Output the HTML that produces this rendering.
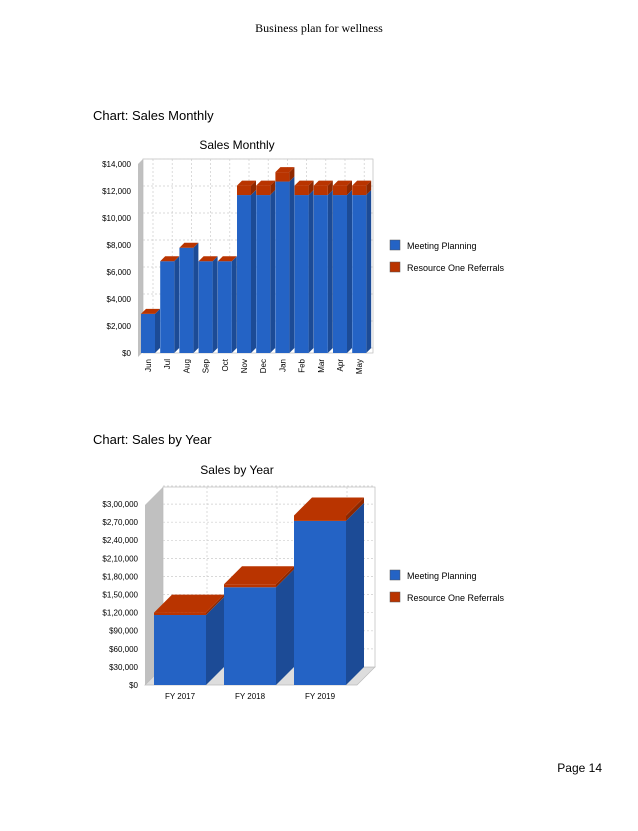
<!DOCTYPE html>
<html><head><meta charset="utf-8"><style>
body{margin:0;background:#fff;}
svg text{font-family:"Liberation Sans",sans-serif;}
.serif{font-family:"Liberation Serif",serif;}
</style></head><body>
<svg width="638" height="826" xmlns="http://www.w3.org/2000/svg">
<text class="serif" x="319" y="32" text-anchor="middle" font-size="12" font-family="Liberation Serif">Business plan for wellness</text>
<text x="93" y="120" font-size="13" font-family="Liberation Serif">Chart: Sales Monthly</text>
<text x="93" y="444" font-size="13" font-family="Liberation Serif">Chart: Sales by Year</text>
<text x="602" y="772" text-anchor="end" font-size="12" font-family="Liberation Serif">Page 14</text>
<g id="c1"></g>
<g id="c2"></g>
</svg>
<script>
const months=["Jun","Jul","Aug","Sep","Oct","Nov","Dec","Jan","Feb","Mar","Apr","May"];
const mpValues=[2900,6800,7800,6800,6800,11700,11700,12700,11700,11700,11700,11700];
const rorValues=[0,0,0,0,0,700,700,700,700,700,700,700];
const yTicks1=["$0","$2,000","$4,000","$6,000","$8,000","$10,000","$12,000","$14,000"];
const years=["FY 2017","FY 2018","FY 2019"];
const mpYear=[116000,162000,272000];
const rorYear=[4000,5000,9000];
const yTicks2=["$0","$30,000","$60,000","$90,000","$1,20,000","$1,50,000","$1,80,000","$2,10,000","$2,40,000","$2,70,000","$3,00,000"];
const NS="http://www.w3.org/2000/svg";
const BLUE="#2463c5",BSIDE="#1c4b96",RED="#b93400",RSIDE="#8e2800";
function mk(p,t,a){const e=document.createElementNS(NS,t);for(const k in a)e.setAttribute(k,a[k]);p.appendChild(e);return e;}
function box(g,x,y0,y1,w,d,fc,sc,tc){
 // front face from y1(top) to y0(bottom)
 mk(g,'polygon',{points:`${x+w},${y0} ${x+w+d},${y0-d} ${x+w+d},${y1-d} ${x+w},${y1}`,fill:sc});
 mk(g,'rect',{x:x,y:y1,width:w,height:y0-y1,fill:fc});
 if(tc)mk(g,'polygon',{points:`${x},${y1} ${x+d},${y1-d} ${x+w+d},${y1-d} ${x+w},${y1}`,fill:tc});
}
function legend(g,y){
 [["Meeting Planning",BLUE],["Resource One Referrals",RED]].forEach((l,i)=>{
  const r=mk(g,'rect',{x:390,y:y+i*22-5,width:10,height:10,fill:l[1],stroke:'#555','stroke-width':0.5});
  
  
  const t=mk(g,'text',{x:407,y:y+i*22+4,'font-size':9});t.textContent=l[0];
  
  
 });
}
// Chart 1
(function(){
 const g=document.getElementById('c1');
 const y0=353,top=164,max=14000,d=5;
 const ys=v=>y0-(v/max)*(y0-top);
 const t=mk(g,'text',{x:237,y:149,'font-size':12,'text-anchor':'middle'});t.textContent="Sales Monthly";
 
 mk(g,'polygon',{points:`138,${y0+4} 143,${y0-1} 143,159 138,164`,fill:'#c0c0c0'});
 mk(g,'rect',{x:143,y:159,width:230,height:y0-164+5,fill:'#fff',stroke:'#bbb','stroke-width':0.7});
 yTicks1.forEach((lb,i)=>{const v=i*2000,y=ys(v);
  mk(g,'line',{x1:143,x2:373,y1:y-5,y2:y-5,stroke:'#ccc','stroke-dasharray':'2,2','stroke-width':0.7});
  const tx=mk(g,'text',{x:131,y:y+3,'font-size':8,'text-anchor':'end'});tx.textContent=lb;
  });
 const pitch=19.2,w=14;
 months.forEach((m,i)=>{const x=141+i*pitch;
  mk(g,'line',{x1:x+w/2+d,x2:x+w/2+d,y1:159,y2:y0-d,stroke:'#ccc','stroke-dasharray':'2,2','stroke-width':0.7});
 });
 months.forEach((m,i)=>{const x=141+i*pitch;
  const b=mk(g,'g',{});
  const yb=ys(mpValues[i]),yr=ys(mpValues[i]+rorValues[i]);
  box(b,x,y0,yb,w,d,BLUE,BSIDE,rorValues[i]>0?null:RED);
  if(rorValues[i]>0)box(b,x,yb,yr,w,d,RED,RSIDE,RED);
  const tx=mk(g,'text',{x:0,y:0,'font-size':8,'text-anchor':'end',transform:`translate(${x+w/2+3},${y0+6}) rotate(-90)`});tx.textContent=m;
  
 });
 legend(g,245);
})();
// Chart 2
(function(){
 const g=document.getElementById('c2');
 const y0=685,top=504,max=300000,d=18;
 const ys=v=>y0-(v/max)*(y0-top);
 const t=mk(g,'text',{x:237,y:474,'font-size':12,'text-anchor':'middle'});t.textContent="Sales by Year";
 
 mk(g,'polygon',{points:`145,${y0} 163,${y0-d} 163,487 145,505`,fill:'#c0c0c0'});
 mk(g,'polygon',{points:`145,${y0} 163,${y0-d} 375,${y0-d} 357,${y0}`,fill:'#ddd',stroke:'#bbb','stroke-width':0.7});
 mk(g,'rect',{x:163,y:487,width:212,height:y0-d-487,fill:'#fff',stroke:'#bbb','stroke-width':0.7});
 yTicks2.forEach((lb,i)=>{const v=i*30000,y=ys(v);
  if(i>0)mk(g,'line',{x1:163,x2:375,y1:y-d,y2:y-d,stroke:'#ccc','stroke-dasharray':'2,2','stroke-width':0.7});
  const tx=mk(g,'text',{x:138,y:y+3,'font-size':8,'text-anchor':'end'});tx.textContent=lb;
  });
 const w=52,pitch=70;
 years.forEach((yr,i)=>{const x=154+i*pitch;
  mk(g,'line',{x1:x+w/2+d+9,x2:x+w/2+d+9,y1:487,y2:y0-d,stroke:'#ccc','stroke-dasharray':'2,2','stroke-width':0.7});});
 years.forEach((yr,i)=>{const x=154+i*pitch;
  const b=mk(g,'g',{});
  const yb=ys(mpYear[i]),yrr=ys(mpYear[i]+rorYear[i]);
  box(b,x,y0,yb,w,d,BLUE,BSIDE,null);
  box(b,x,yb,yrr,w,d,RED,RSIDE,RED);
  const tx=mk(g,'text',{x:x+w/2,y:y0+14,'font-size':8,'text-anchor':'middle'});tx.textContent=yr;
  
 });
 legend(g,575);
})();
</script>
</body></html>
